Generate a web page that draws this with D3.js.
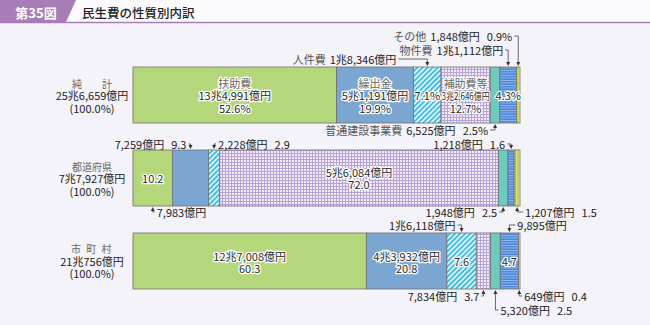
<!DOCTYPE html>
<html>
<head>
<meta charset="utf-8">
<script src="https://cdn.jsdelivr.net/npm/d3@7"></script>
<style>
  body { margin: 0; background: #f4f3f9; font-family: "Noto Sans CJK JP", "Noto Sans", sans-serif; }
  svg { display: block; }
</style>
</head>
<body>
<svg id="chart" width="650" height="325"></svg>
<script>
// --- data ---
const figNo = '第35図';
const title = '民生費の性質別内訳';
const rowNames = ['純　　計', '都道府県', '市 町 村'];
const rowTotals = ['25兆6,659億円', '7兆7,927億円', '21兆756億円'];
const categories = ['扶助費', '繰出金', '人件費', '補助費等', '普通建設事業費', '物件費', 'その他'];

const shareTotal = [52.6, 19.9, 7.1, 12.7, 2.5, 4.3, 0.9];
const sharePref  = [10.2, 9.3, 2.9, 72.0, 2.5, 1.6, 1.5];
const shareMuni  = [60.3, 20.8, 7.6, 3.7, 2.5, 4.7, 0.4];

const amountTotal = ['13兆4,991億円', '5兆1,191億円', '1兆8,346億円', '3兆2,646億円', '6,525億円', '1兆1,112億円', '1,848億円'];
const amountPref  = ['7,983億円', '7,259億円', '2,228億円', '5兆6,084億円', '1,948億円', '1,218億円', '1,207億円'];
const amountMuni  = ['12兆7,008億円', '4兆3,932億円', '1兆6,118億円', '7,834億円', '5,320億円', '9,895億円', '649億円'];

const shares = [shareTotal, sharePref, shareMuni];
const amounts = [amountTotal, amountPref, amountMuni];

// which labels go inside the bar, and which get a callout
const insideLabels = [
  { r: 0, c: 0, parts: ['name', 'amount', 'pct'] },
  { r: 0, c: 1, parts: ['name', 'amount', 'pct'] },
  { r: 0, c: 2, parts: ['pct'] },
  { r: 0, c: 3, parts: ['name', 'amount', 'pct'], squeeze: true },
  { r: 0, c: 5, parts: ['pct'] },
  { r: 1, c: 0, parts: ['pct'] },
  { r: 1, c: 3, parts: ['amount', 'pct'] },
  { r: 2, c: 0, parts: ['amount', 'pct'] },
  { r: 2, c: 1, parts: ['amount', 'pct'] },
  { r: 2, c: 2, parts: ['pct'] },
  { r: 2, c: 5, parts: ['pct'] }
];

const callouts = [
  { r: 0, c: 2, side: 'top', dy: -8, dx: -31, parts: ['name', 'amount'] },
  { r: 0, c: 5, side: 'top', dy: -17, dx: -5, parts: ['name', 'amount'] },
  { r: 0, c: 6, side: 'top', dy: -31, dx: -6, parts: ['name', 'amount', 'pct'] },
  { r: 0, c: 4, side: 'bottom', dy: 7, dx: -7, parts: ['name', 'amount', 'pct'] },
  { r: 1, c: 1, side: 'top', dy: -6, dx: -4, parts: ['amount', 'pct'] },
  { r: 1, c: 2, side: 'top', dy: -6, dx: 4, parts: ['amount', 'pct'] },
  { r: 1, c: 5, side: 'top', dy: -6, dx: -6, parts: ['amount', 'pct'] },
  { r: 1, c: 0, side: 'bottom', dy: 6, dx: 4, parts: ['amount'] },
  { r: 1, c: 4, side: 'bottom', dy: 6, dx: -6, parts: ['amount', 'pct'] },
  { r: 1, c: 6, side: 'bottom', dy: 6, dx: 8, parts: ['amount', 'pct'] },
  { r: 2, c: 2, side: 'top', dy: -8, dx: -6, parts: ['amount'] },
  { r: 2, c: 5, side: 'top', dy: -8, dx: 8, parts: ['amount'] },
  { r: 2, c: 3, side: 'bottom', dy: 7, dx: -4, parts: ['amount', 'pct'] },
  { r: 2, c: 4, side: 'bottom', dy: 21, dx: 5, parts: ['amount', 'pct'] },
  { r: 2, c: 6, side: 'bottom', dy: 7, dx: 5, parts: ['amount', 'pct'] }
];

// --- setup ---
const svg = d3.select('#chart');
const purple = '#a77cb7';

const x = d3.scaleLinear().domain([0, 100]).range([133, 520]);
const y = d3.scaleBand().domain(d3.range(rowNames.length)).range([67, 289]).paddingInner(0.325);

const defs = svg.append('defs');

function pattern(id, size, bg, rot) {
  const p = defs.append('pattern').attr('id', id)
    .attr('patternUnits', 'userSpaceOnUse').attr('width', size).attr('height', size);
  if (rot) p.attr('patternTransform', `rotate(${rot})`);
  p.append('rect').attr('width', size).attr('height', size).attr('fill', bg);
  return p;
}
// 人件費: diagonal hatch
pattern('hatch', 3.6, '#e6f6fb', 45)
  .append('rect').attr('width', 1.9).attr('height', 3.6).attr('fill', '#3fbde1');
// 補助費等: fine grid
const grid = pattern('grid', 3, '#f0ebf7');
grid.append('rect').attr('width', 3).attr('height', 1).attr('fill', '#b7a3d8');
grid.append('rect').attr('width', 1).attr('height', 3).attr('fill', '#b7a3d8');
// 物件費: horizontal lines
pattern('hline', 2.5, '#4c84d6')
  .append('rect').attr('width', 2.5).attr('height', 1).attr('fill', '#93b8ec');
// その他: vertical lines
pattern('vline', 2.5, '#e3ee8c')
  .append('rect').attr('width', 1).attr('height', 2.5).attr('fill', '#98bb35');

const fills = ['#b5d77b', '#7ba6d2', 'url(#hatch)', 'url(#grid)', '#6dcabd', 'url(#hline)', 'url(#vline)'];

// --- title strip ---
svg.append('rect').attr('width', 650).attr('height', 22).attr('fill', '#fbfafd');
svg.append('path').attr('d', 'M0,0H76L66,22H0Z').attr('fill', purple);
svg.append('line').attr('x1', 0).attr('x2', 650).attr('y1', 22.5).attr('y2', 22.5)
  .attr('stroke', purple).attr('stroke-width', 1.5);
svg.append('text').attr('x', 36).attr('y', 12).attr('dominant-baseline', 'central')
  .attr('text-anchor', 'middle').attr('fill', '#fff').attr('font-size', 13).attr('font-weight', 700)
  .text(figNo);
svg.append('text').attr('x', 82).attr('y', 12).attr('dominant-baseline', 'central')
  .attr('fill', '#222').attr('font-size', 12.5).attr('font-weight', 500)
  .text(title);

// --- stacked segments ---
const stacked = shares.map((vals, r) => {
  let acc = 0;
  return vals.map((v, c) => {
    const d = { r, c, v, x0: acc, x1: acc + v };
    acc += v;
    return d;
  });
});
const seg = (r, c) => stacked[r][c];
const cx = d => (x(d.x0) + x(d.x1)) / 2;

svg.append('g').selectAll('g').data(stacked).join('g')
  .selectAll('rect').data(d => d).join('rect')
  .attr('x', d => x(d.x0))
  .attr('y', d => y(d.r))
  .attr('width', d => x(d.x1) - x(d.x0))
  .attr('height', y.bandwidth())
  .attr('fill', d => fills[d.c])
  .attr('stroke', '#707070')
  .attr('stroke-width', 0.8);

// --- row labels ---
const rowG = svg.append('g').attr('text-anchor', 'middle').attr('font-size', 11);
rowNames.forEach((name, r) => {
  const cy = y(r) + y.bandwidth() / 2;
  rowG.append('text').attr('x', 92).attr('y', cy - 12).attr('dominant-baseline', 'central')
    .attr('fill', '#666').attr('font-size', 10).style('letter-spacing', r === 2 ? '1.5px' : null)
    .text(name);
  rowG.append('text').attr('x', 92).attr('y', cy).attr('dominant-baseline', 'central')
    .attr('fill', '#222').text(rowTotals[r]);
  rowG.append('text').attr('x', 92).attr('y', cy + 12.5).attr('dominant-baseline', 'central')
    .attr('fill', '#222').text('(100.0%)');
});

// --- text helpers ---
function fmtPct(r, c) {
  return shares[r][c].toFixed(1) + (r === 0 ? '%' : '');
}
function partText(p, r, c) {
  if (p === 'name') return categories[c];
  if (p === 'amount') return amounts[r][c];
  return fmtPct(r, c);
}

// --- inside labels ---
const inG = svg.append('g').attr('text-anchor', 'middle').attr('font-size', 11)
  .attr('stroke', '#fff').attr('stroke-width', 2.6).attr('stroke-linejoin', 'round')
  .style('paint-order', 'stroke');
insideLabels.forEach(l => {
  const d = seg(l.r, l.c);
  const mid = y(l.r) + y.bandwidth() / 2;
  const n = l.parts.length;
  const step = n === 3 ? 12.5 : 12;
  l.parts.forEach((p, i) => {
    const t = inG.append('text')
      .attr('x', cx(d))
      .attr('y', mid + (i - (n - 1) / 2) * step + (n === 2 && l.r === 2 ? 1 : 0))
      .attr('dominant-baseline', 'central')
      .attr('fill', p === 'name' ? '#666' : '#2a2a2a')
      .text(partText(p, l.r, l.c));
    if (l.squeeze && p === 'amount') {
      t.attr('font-size', 10).attr('textLength', x(d.x1) - x(d.x0) - 1)
        .attr('lengthAdjust', 'spacingAndGlyphs');
    }
  });
});

// --- callouts with leader lines ---
const coG = svg.append('g').attr('font-size', 11);
callouts.forEach(co => {
  const d = seg(co.r, co.c);
  const ax = cx(d);
  const edge = co.side === 'top' ? y(co.r) : y(co.r) + y.bandwidth();
  const ty = edge + co.dy;
  const tx = ax + co.dx;
  const dir = co.dx < 0 ? -1 : 1;

  const t = coG.append('text').attr('x', tx).attr('y', ty)
    .attr('dominant-baseline', 'central')
    .attr('text-anchor', dir < 0 ? 'end' : 'start');
  co.parts.forEach((p, i) => {
    t.append('tspan')
      .attr('dx', i === 0 ? 0 : (p === 'pct' ? 7 : 4))
      .attr('fill', p === 'name' ? '#555' : '#222')
      .text(partText(p, co.r, co.c));
  });

  // leader: from text to segment centre, then to the bar edge with an arrow
  const hx = tx - dir * 2;
  const tip = co.side === 'top' ? edge - 1 : edge + 1;
  const back = co.side === 'top' ? tip - 4 : tip + 4;
  coG.append('path')
    .attr('d', `M${hx},${ty}H${ax}V${back}`)
    .attr('fill', 'none').attr('stroke', '#444').attr('stroke-width', 0.8);
  coG.append('path')
    .attr('d', `M${ax - 2},${back}L${ax + 2},${back}L${ax},${tip}Z`)
    .attr('fill', '#333');
});
</script>
</body>
</html>
